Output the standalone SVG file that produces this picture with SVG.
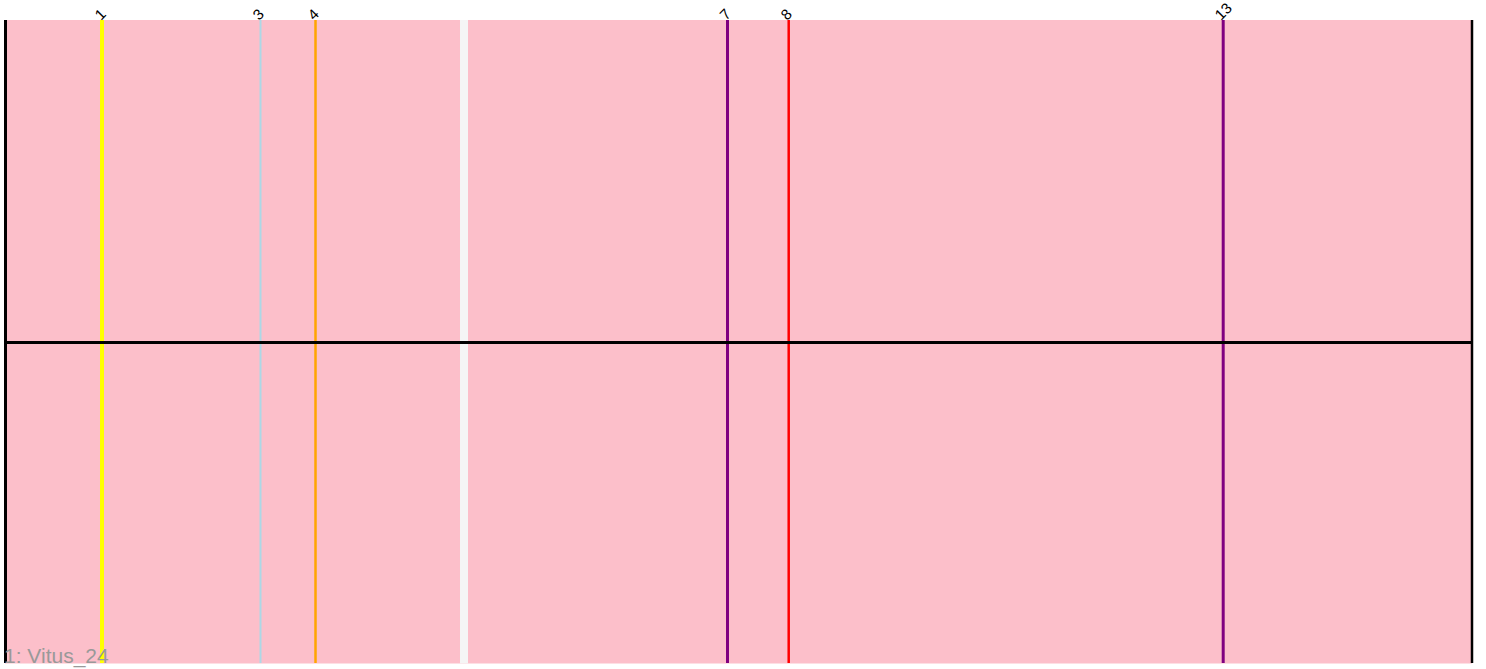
<svg xmlns="http://www.w3.org/2000/svg" width="1486" height="669" viewBox="0 0 1486 669">
<style>
.lbl{font-family:"Liberation Sans",Arial,sans-serif;font-size:15px;fill:#000}
</style>
<rect width="1486" height="669" fill="#fff"/>
<g id="track">
<rect x="5" y="20" width="1467" height="643.5" fill="#fcbfca"/>
<rect x="460" y="20" width="8" height="643.5" fill="#f5f5f5"/>
<line x1="5.5" y1="20" x2="5.5" y2="663" stroke="#000" stroke-width="3"/>
<line x1="1472" y1="20" x2="1472" y2="663" stroke="#000" stroke-width="2.5"/>
</g>
<g id="connectors">
<line x1="102" y1="20" x2="102" y2="663" stroke="#ffff00" stroke-width="4"/>
<line x1="260.5" y1="20" x2="260.5" y2="663" stroke="#add8e6" stroke-width="2"/>
<line x1="315.5" y1="20" x2="315.5" y2="663" stroke="#ffa500" stroke-width="2.5"/>
<line x1="727.5" y1="20" x2="727.5" y2="663" stroke="#800080" stroke-width="3"/>
<line x1="788.7" y1="20" x2="788.7" y2="663" stroke="#ff0000" stroke-width="2.5"/>
<line x1="1223.2" y1="20" x2="1223.2" y2="663" stroke="#800080" stroke-width="3"/>
<line x1="5" y1="342.5" x2="1472" y2="342.5" stroke="#000" stroke-width="3"/>
</g>
<g id="labels">
<text class="lbl" transform="translate(101,21) rotate(-45)">1</text>
<text class="lbl" transform="translate(259,21) rotate(-45)">3</text>
<text class="lbl" transform="translate(314,21) rotate(-45)">4</text>
<text class="lbl" transform="translate(726,21) rotate(-45)">7</text>
<text class="lbl" transform="translate(787,21) rotate(-45)">8</text>
<text class="lbl" transform="translate(1221,21) rotate(-45)">13</text>
</g>
<g id="title">
<text x="4" y="663" style="font-family:'Liberation Sans',Arial,sans-serif;font-size:21px;fill:#999">1: Vitus_24</text>
</g>
</svg>
